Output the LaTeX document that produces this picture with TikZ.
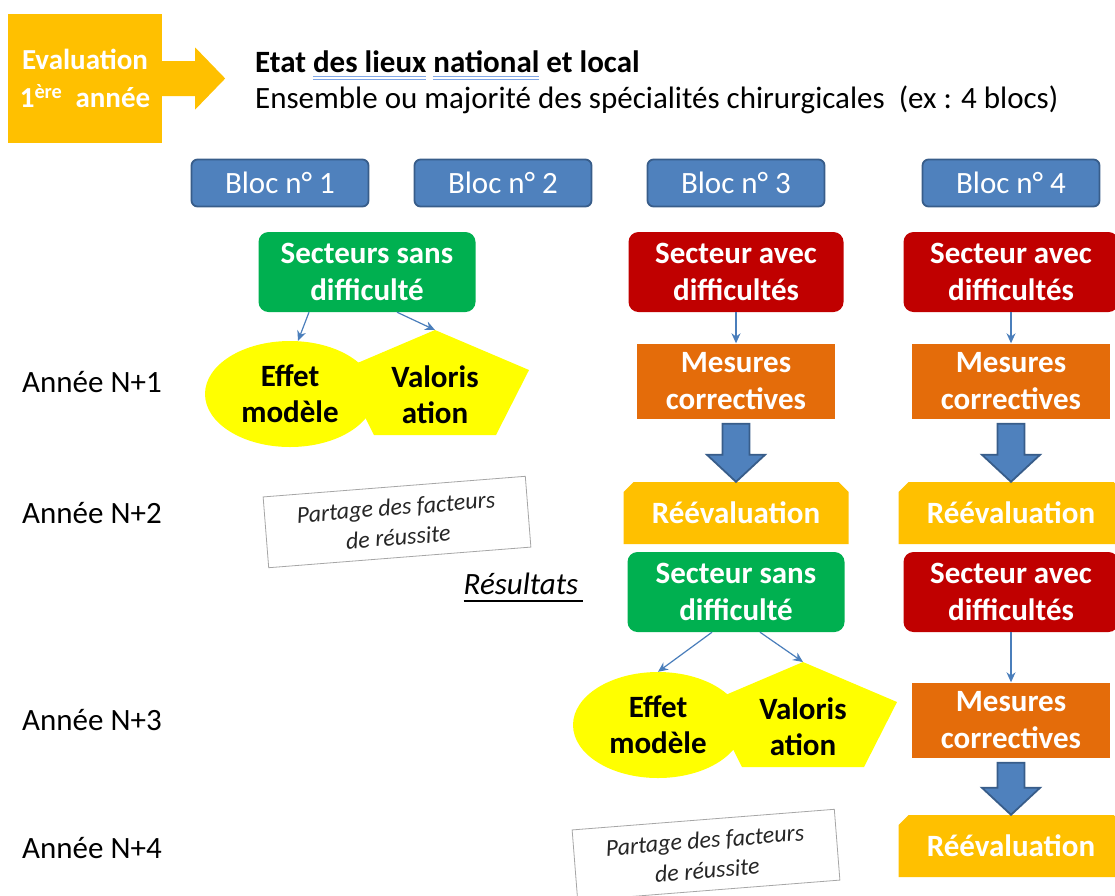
\documentclass[tikz,border=0pt]{standalone}
\usepackage{fontspec}
\setmainfont{Carlito}
\usetikzlibrary{shapes.geometric, shapes.misc, arrows.meta, calc}

\definecolor{blocbleu}{HTML}{4F81BD}
\definecolor{blocbord}{HTML}{385D8A}
\definecolor{vert}{HTML}{00B050}
\definecolor{rouge}{HTML}{C00000}
\definecolor{orangemes}{HTML}{E46C0A}
\definecolor{orjaune}{HTML}{FFC000}
\definecolor{jaune}{HTML}{FFFF00}
\definecolor{fleche}{HTML}{4A7EBB}
\definecolor{souligne}{HTML}{7FA6E6}

\newcommand{\doublesouligne}[1]{\setbox0\hbox{#1}%
\rlap{\color{souligne}\rule[-4.5pt]{\wd0}{1pt}}%
\rlap{\color{souligne}\rule[-8pt]{\wd0}{1pt}}\box0\relax}

\tikzstyle{evalbox} = [rectangle, minimum width=154pt, minimum height=129pt,
align=center, fill=orjaune, text=white,
font=\bfseries\fontsize{29}{38}\selectfont]
\tikzstyle{titre} = [anchor=base west, inner sep=0pt, font=\fontsize{31}{36}\selectfont]
\tikzstyle{bloc} = [rectangle, rounded corners=6pt,
minimum width=177pt,
minimum height=47pt,
text centered,
draw=blocbord, line width=1.8pt,
fill=blocbleu, text=white,
font=\fontsize{31}{36}\selectfont]
\tikzstyle{sansdiff} = [rectangle, rounded corners=10pt,
minimum width=217pt,
minimum height=80pt,
align=center,
fill=vert, text=white,
font=\bfseries\fontsize{31}{37}\selectfont]
\tikzstyle{avecdiff} = [sansdiff, fill=rouge, minimum width=215pt]
\tikzstyle{mesures} = [rectangle,
minimum width=198pt,
minimum height=75pt,
align=center,
fill=orangemes, text=white,
font=\bfseries\fontsize{31}{37}\selectfont]
\tikzstyle{reeval} = [chamfered rectangle,
chamfered rectangle corners={north west, north east},
chamfered rectangle xsep=5pt, chamfered rectangle ysep=5pt,
minimum width=225pt,
minimum height=62pt,
fill=orjaune, text=white,
font=\bfseries\fontsize{31}{37}\selectfont]
\tikzstyle{effet} = [ellipse, minimum width=170pt, minimum height=106pt,
inner sep=0pt, align=center, fill=jaune,
font=\bfseries\fontsize{31}{36}\selectfont]
\tikzstyle{valo} = [inner sep=0pt, align=center,
font=\bfseries\fontsize{31}{36}\selectfont]
\tikzstyle{partage} = [rectangle, draw=gray!70, line width=0.8pt,
minimum width=263pt, minimum height=71pt,
align=center, fill=white, text=black!85,
font=\itshape\fontsize{24}{30}\selectfont]
\tikzstyle{annee} = [anchor=base west, inner sep=0pt, font=\fontsize{31}{36}\selectfont]
\tikzstyle{arrow} = [line width=1.2pt, draw=fleche, -{Stealth[length=10pt,width=9pt]}]
\tikzstyle{grosse} = [fill=blocbleu, draw=blocbord, line width=1.8pt, line join=miter]

\begin{document}
\begin{tikzpicture}[x=1pt, y=1pt, node distance=100pt]
\useasboundingbox (0,0) rectangle (1115,-895);

% en-tete
\node (eval) [evalbox] at (85,-78.5) {Evaluation\\1\textsuperscript{ère}\ \ année};
\fill [orjaune] ([yshift=17.5pt]eval.east) -- ++(33,0) -- ++(0,13.5) -- ++(30,-31)
  -- ++(-30,-31) -- ++(0,13.5) -- ++(-33,0) -- cycle;
\node (etat) [titre] at (255,-72) {\textbf{Etat \doublesouligne{des lieux} \doublesouligne{national} et local}};
\node (ensemble) [titre] at (255,-108) {Ensemble ou majorité des spécialités chirurgicales\ \ (ex : 4 blocs)};

% les blocs
\node (bloc1) [bloc] at (280,-183) {Bloc n° 1};
\node (bloc2) [bloc, right of=bloc1, xshift=123pt] {Bloc n° 2};
\node (bloc3) [bloc, right of=bloc2, xshift=133pt] {Bloc n° 3};
\node (bloc4) [bloc, right of=bloc3, xshift=175pt] {Bloc n° 4};

% annees
\node (an1) [annee] at (22,-392) {Année N+1};
\node (an2) [annee] at (22,-523) {Année N+2};
\node (an3) [annee] at (22,-730) {Année N+3};
\node (an4) [annee] at (22,-858) {Année N+4};

% bloc 1
\node (sans1) [sansdiff, below of=bloc1, xshift=87pt, yshift=11pt] {Secteurs sans\\difficulté};
\coordinate (val1) at (435,-395);
\fill [jaune] ($(val1)+(0,65)$) coordinate (som1) -- ($(val1)+(94,25)$) -- ($(val1)+(61,-40)$)
  -- ($(val1)+(-61,-40)$) -- ($(val1)+(-94,25)$) -- cycle;
\node (eff1) [effet, below of=sans1, xshift=-77pt, yshift=-22pt] {Effet\\modèle};
\node (valo1) [valo] at (val1) {Valoris\\ation};
\node (part1) [partage, rotate=4.5] at (397,-522) {Partage des facteurs\\de réussite};

\draw [arrow] ([xshift=-58pt]sans1.south) -- ([xshift=8pt]eff1.north);
\draw [arrow] ([xshift=30pt]sans1.south) -- (som1);

% bloc 3
\node (rouge3) [avecdiff, below of=bloc3, yshift=11pt] {Secteur avec\\difficultés};
\node (mes3) [mesures, below of=rouge3, yshift=-9pt] {Mesures\\correctives};
\node (reev3) [reeval, below of=mes3, yshift=-32pt] {Réévaluation};
\node (sans3) [sansdiff, below of=reev3, yshift=21pt] {Secteur sans\\difficulté};
\node (res) [inner sep=0pt, font=\itshape\fontsize{31}{36}\selectfont] at (521,-584) {Résultats};
\draw [line width=2pt] ([yshift=-6pt]res.base west) -- ([xshift=5pt,yshift=-6pt]res.base east);
\coordinate (val3) at (803,-727);
\fill [jaune] ($(val3)+(0,65)$) coordinate (som3) -- ($(val3)+(94,25)$) -- ($(val3)+(61,-40)$)
  -- ($(val3)+(-61,-40)$) -- ($(val3)+(-94,25)$) -- cycle;
\node (eff3) [effet, below of=sans3, xshift=-78pt, yshift=-33pt] {Effet\\modèle};
\node (valo3) [valo] at (val3) {Valoris\\ation};
\node (part2) [partage, rotate=4.5] at (706,-855) {Partage des facteurs\\de réussite};

\draw [arrow] (rouge3) -- (mes3);
\draw [grosse] ([xshift=-13.5pt,yshift=-5pt]mes3.south) -- ([xshift=13.5pt,yshift=-5pt]mes3.south)
  -- ([xshift=13.5pt,yshift=27pt]reev3.north) -- ([xshift=29pt,yshift=27pt]reev3.north) -- (reev3.north)
  -- ([xshift=-29pt,yshift=27pt]reev3.north) -- ([xshift=-13.5pt,yshift=27pt]reev3.north) -- cycle;
\draw [arrow] ([xshift=-24pt]sans3.south) -- (eff3.north);
\draw [arrow] ([xshift=24pt]sans3.south) -- (som3);

% bloc 4
\node (rouge4) [avecdiff, below of=bloc4, yshift=11pt] {Secteur avec\\difficultés};
\node (mes4) [mesures, below of=rouge4, yshift=-9pt] {Mesures\\correctives};
\node (reev4) [reeval, below of=mes4, yshift=-32pt] {Réévaluation};
\node (rouge4b) [avecdiff, below of=reev4, yshift=21pt] {Secteur avec\\difficultés};
\node (mes4b) [mesures, below of=rouge4b, yshift=-28pt] {Mesures\\correctives};
\node (reev4b) [reeval, below of=mes4b, yshift=-26pt] {Réévaluation};

\draw [arrow] (rouge4) -- (mes4);
\draw [grosse] ([xshift=-13.5pt,yshift=-5pt]mes4.south) -- ([xshift=13.5pt,yshift=-5pt]mes4.south)
  -- ([xshift=13.5pt,yshift=27pt]reev4.north) -- ([xshift=29pt,yshift=27pt]reev4.north) -- (reev4.north)
  -- ([xshift=-29pt,yshift=27pt]reev4.north) -- ([xshift=-13.5pt,yshift=27pt]reev4.north) -- cycle;
\draw [arrow] (rouge4b) -- (mes4b);
\draw [grosse] ([xshift=-13.5pt,yshift=-5pt]mes4b.south) -- ([xshift=13.5pt,yshift=-5pt]mes4b.south)
  -- ([xshift=13.5pt,yshift=27pt]reev4b.north) -- ([xshift=29pt,yshift=27pt]reev4b.north) -- (reev4b.north)
  -- ([xshift=-29pt,yshift=27pt]reev4b.north) -- ([xshift=-13.5pt,yshift=27pt]reev4b.north) -- cycle;

\end{tikzpicture}
\end{document}
